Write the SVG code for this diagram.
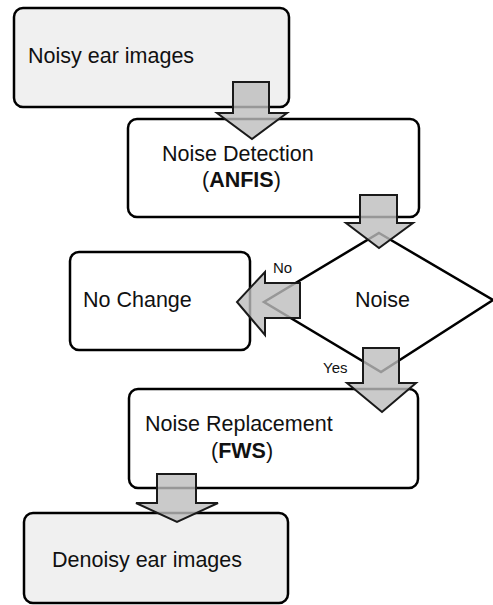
<svg xmlns="http://www.w3.org/2000/svg" width="493" height="605" viewBox="0 0 493 605">
  <style>
    .box { stroke: #000; stroke-width: 2.5; }
    .io { fill: #f0f0f0; }
    .proc { fill: #fff; }
    .lbl { font-family: "Liberation Sans", Arial, sans-serif; font-size: 21.5px; fill: #111; }
    .small { font-family: "Liberation Sans", Arial, sans-serif; font-size: 15px; fill: #111; }
    .bold { font-weight: bold; }
    .flow { fill: #bdbdbd; fill-opacity: 0.8; stroke: #1a1a1a; stroke-width: 2; stroke-linejoin: miter; }
  </style>
  <rect width="493" height="605" fill="#fff"/>

  <g id="input">
    <rect class="box io" x="14" y="8" width="275" height="99" rx="9"/>
    <text class="lbl" x="28" y="63">Noisy ear images</text>
  </g>

  <g id="detection">
    <rect class="box proc" x="128" y="119" width="291" height="98" rx="9"/>
    <text class="lbl" x="162" y="161">Noise Detection</text>
    <text class="lbl" x="202" y="187">(<tspan class="bold">ANFIS</tspan>)</text>
  </g>

  <g id="decision">
    <polygon class="box proc" points="379,233 493,300 381,372 264,302"/>
    <text class="lbl" x="355" y="307">Noise</text>
  </g>

  <g id="nochange">
    <rect class="box proc" x="70" y="252" width="180" height="98" rx="9"/>
    <text class="lbl" x="83" y="307">No Change</text>
  </g>

  <g id="replacement">
    <rect class="box proc" x="129" y="389" width="289" height="99" rx="9"/>
    <text class="lbl" x="145" y="431">Noise Replacement</text>
    <text class="lbl" x="211" y="458">(<tspan class="bold">FWS</tspan>)</text>
  </g>

  <g id="output">
    <rect class="box io" x="24" y="513" width="264" height="90" rx="9"/>
    <text class="lbl" x="52" y="567">Denoisy ear images</text>
  </g>

  <!-- block arrows between the steps -->
  <g id="connectors">
    <polygon class="flow" points="233,82 269,82 269,113 287,113 252,139 217,113 233,113"/>
    <polygon class="flow" points="360,195 397,195 397,223 413,223 379,248 346,223 360,223"/>
    <polygon class="flow" points="300,283 300,318 265,318 265,335 237,302 265,272 265,283"/>
    <polygon class="flow" points="363,348 399,348 399,383 416,383 382,412 347,383 363,383"/>
    <polygon class="flow" points="157,474 196,474 196,503 218,503 177,522 136,503 157,503"/>
    <text class="small" x="273" y="273">No</text>
    <text class="small" x="323" y="373">Yes</text>
  </g>
</svg>
